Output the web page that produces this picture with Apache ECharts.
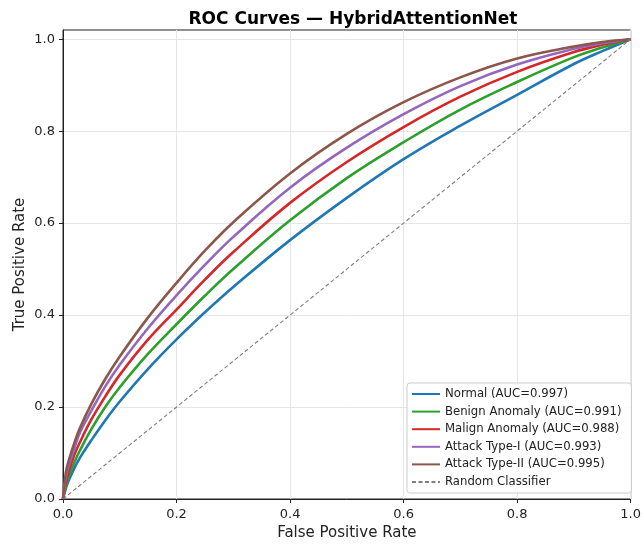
<!DOCTYPE html>
<html>
<head>
<meta charset="utf-8">
<script src="https://cdn.jsdelivr.net/npm/echarts@6/dist/echarts.min.js"></script>
<style>
html,body{margin:0;padding:0;background:#fff;}
#chart{width:644px;height:546px;}
</style>
</head>
<body>
<div id="chart"></div>
<script>
// False positive rate sample points (x)
const fpr = [0, 0.005, 0.01, 0.02, 0.03, 0.05, 0.075, 0.1, 0.15, 0.2, 0.25, 0.3, 0.4, 0.5, 0.6, 0.7, 0.8, 0.9, 0.95, 1];
// True positive rate per class
const tprNormal  = [0, 0.023, 0.040, 0.067, 0.090, 0.128, 0.172, 0.212, 0.283, 0.347, 0.406, 0.461, 0.563, 0.655, 0.739, 0.812, 0.879, 0.946, 0.974, 1];
const tprBenign  = [0, 0.030, 0.050, 0.080, 0.106, 0.152, 0.201, 0.243, 0.316, 0.380, 0.442, 0.500, 0.606, 0.698, 0.776, 0.847, 0.907, 0.961, 0.982, 1];
const tprMalign  = [0, 0.037, 0.060, 0.096, 0.124, 0.173, 0.224, 0.270, 0.347, 0.412, 0.477, 0.537, 0.644, 0.733, 0.809, 0.875, 0.929, 0.972, 0.988, 1];
const tprAttack1 = [0, 0.047, 0.072, 0.110, 0.145, 0.192, 0.246, 0.292, 0.372, 0.443, 0.509, 0.570, 0.677, 0.764, 0.837, 0.898, 0.945, 0.979, 0.991, 1];
const tprAttack2 = [0, 0.057, 0.083, 0.122, 0.155, 0.207, 0.262, 0.310, 0.395, 0.470, 0.540, 0.602, 0.708, 0.794, 0.863, 0.917, 0.958, 0.984, 0.994, 1];
const randomX = [0, 1];
const randomY = [0, 1];

const seriesNames = [
  'Normal (AUC=0.997)',
  'Benign Anomaly (AUC=0.991)',
  'Malign Anomaly (AUC=0.988)',
  'Attack Type-I (AUC=0.993)',
  'Attack Type-II (AUC=0.995)',
  'Random Classifier'
];
const xTicks = [0, 0.2, 0.4, 0.6, 0.8, 1.0];
const yTicks = [0, 0.2, 0.4, 0.6, 0.8, 1.0];

const colors = ['#1f77b4', '#2ca02c', '#d62728', '#9467bd', '#8c564b'];
const curves = [tprNormal, tprBenign, tprMalign, tprAttack1, tprAttack2];

const FONT = 'DejaVu Sans';
const pair = (xs, ys) => xs.map((x, i) => [x, ys[i]]);

const series = curves.map((ys, i) => ({
  name: seriesNames[i],
  type: 'line',
  data: pair(fpr, ys),
  smooth: 0.4,
  symbol: 'none',
  showSymbol: false,
  lineStyle: { color: colors[i], width: 2.6 },
  itemStyle: { color: colors[i] },
  z: 3 + i
}));
series.push({
  name: seriesNames[5],
  type: 'line',
  data: pair(randomX, randomY),
  symbol: 'none',
  showSymbol: false,
  lineStyle: { color: '#7f7f7f', width: 1.1, type: [4, 2.5] },
  itemStyle: { color: '#7f7f7f' },
  z: 10
});

const chart = echarts.init(document.getElementById('chart'), null, { renderer: 'canvas' });
chart.setOption({
  animation: false,
  backgroundColor: '#ffffff',
  textStyle: { fontFamily: FONT },
  title: {
    text: 'ROC Curves — HybridAttentionNet',
    left: 348,
    top: 6,
    textAlign: 'center',
    textStyle: { fontFamily: FONT, fontSize: 17, fontWeight: 'bold', color: '#000' }
  },
  grid: {
    left: 63, right: 10, top: 30, bottom: 47,
    show: true, borderColor: '#222', borderWidth: 1, backgroundColor: 'transparent'
  },
  legend: {
    orient: 'vertical',
    left: 407,
    top: 383,
    data: seriesNames,
    itemWidth: 28,
    itemHeight: 12,
    itemGap: 5.6,
    padding: [5, 10, 5, 4],
    backgroundColor: 'rgba(255,255,255,0.85)',
    borderColor: '#cccccc',
    borderWidth: 1,
    borderRadius: 3,
    itemStyle: { opacity: 0 },
    textStyle: { fontFamily: FONT, fontSize: 11.7, color: '#222' }
  },
  xAxis: {
    type: 'value',
    min: 0, max: 1, interval: 0.2,
    name: 'False Positive Rate',
    nameLocation: 'middle',
    nameGap: 27,
    nameMoveOverlap: false,
    nameTextStyle: { fontFamily: FONT, fontSize: 15, color: '#222' },
    axisLine: { show: true, onZero: false, lineStyle: { color: '#222', width: 1 } },
    axisTick: { show: true, length: 4, inside: false, lineStyle: { color: '#222' } },
    axisLabel: {
      margin: 9, fontFamily: FONT, fontSize: 13, color: '#222',
      formatter: v => v.toFixed(1)
    },
    splitLine: { show: true, lineStyle: { color: '#e6e6e6', width: 1 } }
  },
  yAxis: {
    type: 'value',
    min: 0, max: 1.02, interval: 0.2,
    name: 'True Positive Rate',
    nameLocation: 'middle',
    nameGap: 35,
    nameMoveOverlap: false,
    nameTextStyle: { fontFamily: FONT, fontSize: 15, color: '#222' },
    axisLine: { show: true, onZero: false, lineStyle: { color: '#222', width: 1 } },
    axisTick: { show: true, length: 4, inside: false, customValues: yTicks, lineStyle: { color: '#222' } },
    axisLabel: {
      margin: 8, fontFamily: FONT, fontSize: 13, color: '#222',
      customValues: yTicks,
      formatter: v => (Math.abs(v * 5 - Math.round(v * 5)) < 1e-6 ? v.toFixed(1) : '')
    },
    splitLine: { show: true, lineStyle: { color: '#e6e6e6', width: 1 } }
  },
  series: series
});
</script>
</body>
</html>
